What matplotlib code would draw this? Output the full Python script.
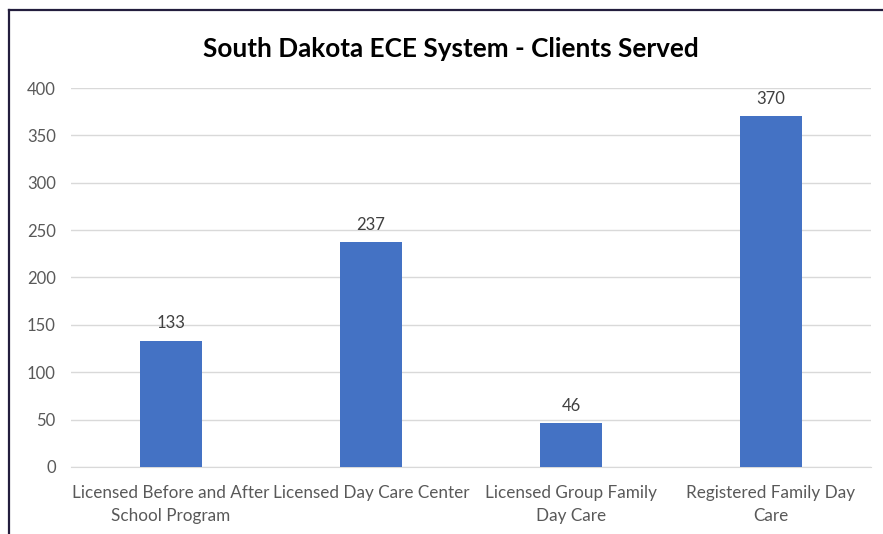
import matplotlib.pyplot as plt
from matplotlib.lines import Line2D

categories = ['Licensed Before and After\nSchool Program', 'Licensed Day Care Center',
              'Licensed Group Family\nDay Care', 'Registered Family Day\nCare']
clients = [133, 237, 46, 370]
yticks = [0, 50, 100, 150, 200, 250, 300, 350, 400]

plt.rcParams['font.family'] = ['Lato', 'DejaVu Sans']

fig = plt.figure(figsize=(8.83, 5.34), dpi=100)
ax = fig.add_axes([0.0804, 0.1255, 0.9060, 0.7097])

x = range(len(categories))
bars = ax.bar(x, clients, width=0.31, color='#4472C4', zorder=3)
for b, v in zip(bars, clients):
    ax.annotate(str(v), (b.get_x() + b.get_width() / 2, v), xytext=(0, 7),
                textcoords='offset points', ha='center', va='bottom',
                fontsize=12, color='#404040')

ax.set_xlim(-0.5, 3.5)
ax.set_ylim(0, 400)
ax.set_yticks(yticks)
ax.set_xticks(list(x))
ax.set_xticklabels(categories, fontsize=12.3, color='#595959', linespacing=1.5)
ax.tick_params(axis='y', labelsize=12, labelcolor='#595959', length=0, pad=11)
ax.tick_params(axis='x', length=0, pad=13)
ax.grid(axis='y', color='#D9D9D9', linewidth=1, zorder=0)
for s in ['top', 'right', 'left']:
    ax.spines[s].set_visible(False)
ax.spines['bottom'].set_color('#D9D9D9')

fig.text(0.511, 0.908, 'South Dakota ECE System - Clients Served', ha='center', va='center',
         fontsize=18.8, fontweight='bold', color='black')

# frame lines at the top and left edge
fig.add_artist(Line2D([9 / 883, 1], [1 - 10 / 534, 1 - 10 / 534], color='#231D3D', linewidth=1.6))
fig.add_artist(Line2D([9 / 883, 9 / 883], [0, 1 - 10 / 534], color='#231D3D', linewidth=1.6))

fig.savefig('out.png', dpi=100)
